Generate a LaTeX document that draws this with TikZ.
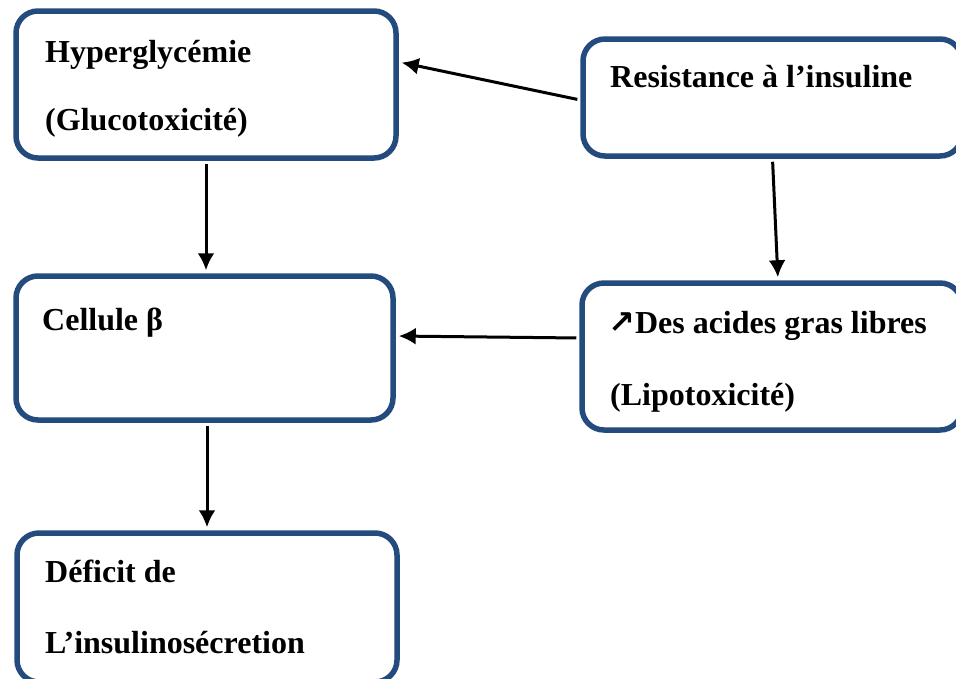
\documentclass[tikz,border=0pt]{standalone}
\usepackage{fontspec}
\setmainfont{Liberation Serif}
\newfontfamily\symfont{DejaVu Sans}
\usepackage{tikz}
\usetikzlibrary{positioning,arrows.meta}
\definecolor{boxblue}{RGB}{36,75,125}

\begin{document}
\begin{tikzpicture}[
    x=1pt, y=1pt,
    box/.style={rectangle, draw=boxblue, line width=5.5pt, rounded corners=22pt, fill=white, inner sep=0pt},
    txt/.style={inner sep=0pt, align=left, font=\fontsize{32}{68}\selectfont\bfseries},
    arr/.style={-{Latex[length=17pt,width=17pt]}, line width=3pt, shorten >=3pt, shorten <=3pt},
]
\clip (0,0) rectangle (956,-678);
\useasboundingbox (0,0) rectangle (956,-678);

% Boxes
\node[box, minimum width=380pt, minimum height=147pt] (hyp) at (206,-84.5) {};
\node[box, minimum width=379pt, minimum height=117pt] (res) at (772.5,-97.5) {};
\node[box, minimum width=377pt, minimum height=144pt] (cel) at (204.5,-348) {};
\node[box, minimum width=380pt, minimum height=147pt] (acid) at (772,-356.5) {};
\node[box, minimum width=380pt, minimum height=149pt] (def) at (207,-607.5) {};

% Texts
\node[txt, anchor=base west] (hyptxt) at (45,-62) {Hyperglycémie};
\node[txt, anchor=base west] (glutxt) at (45,-130) {(Glucotoxicité)};
\node[txt, anchor=base west] (restxt) at (610,-87) {Resistance à l’insuline};
\node[txt, anchor=base west] (celtxt) at (42,-330) {Cellule β};
\node[txt, anchor=base west] (acidtxt) at (608,-333) {{\symfont ↗}Des acides gras libres};
\node[txt, anchor=base west] (liptxt) at (610,-405) {(Lipotoxicité)};
\node[txt, anchor=base west] (deftxt) at (45,-582) {Déficit de};
\node[txt, anchor=base west] (instxt) at (45,-653) {L’insulinosécretion};

% Arrows
\draw[arr] ([yshift=-2.5pt]res.west) -- ([yshift=22.5pt]hyp.east);
\draw[arr] (hyp.south) -- (hyp.south |- cel.north);
\draw[arr] (res.south) -- ([xshift=6pt]acid.north);
\draw[arr] ([yshift=18.5pt]acid.west) -- ([yshift=12pt]cel.east);
\draw[arr] (cel.south -| def.north) -- (def.north);

\end{tikzpicture}
\end{document}
